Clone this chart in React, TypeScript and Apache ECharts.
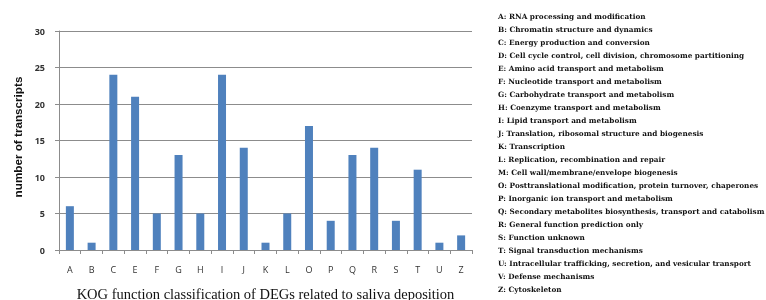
import React, { useEffect, useRef } from "react";
import * as echarts from "echarts";

const categories = ["A", "B", "C", "E", "F", "G", "H", "I", "J", "K", "L", "O", "P", "Q", "R", "S", "T", "U", "Z"];
const values = [6, 1, 24, 21, 5, 13, 5, 24, 14, 1, 5, 17, 4, 13, 14, 4, 11, 1, 2];
const yTicks = [0, 5, 10, 15, 20, 25, 30];
const legendLines = [
  "A: RNA processing and modification",
  "B: Chromatin structure and dynamics",
  "C: Energy production and conversion",
  "D: Cell cycle control, cell division, chromosome partitioning",
  "E: Amino acid transport and metabolism",
  "F: Nucleotide transport and metabolism",
  "G: Carbohydrate transport and metabolism",
  "H: Coenzyme transport and metabolism",
  "I: Lipid transport and metabolism",
  "J: Translation, ribosomal structure and biogenesis",
  "K: Transcription",
  "L: Replication, recombination and repair",
  "M: Cell wall/membrane/envelope biogenesis",
  "O: Posttranslational modification, protein turnover, chaperones",
  "P: Inorganic ion transport and metabolism",
  "Q: Secondary metabolites biosynthesis, transport and catabolism",
  "R: General function prediction only",
  "S: Function unknown",
  "T: Signal transduction mechanisms",
  "U: Intracellular trafficking, secretion, and vesicular transport",
  "V: Defense mechanisms",
  "Z: Cytoskeleton",
];
const xTitle = "KOG function classification of DEGs related to saliva deposition";
const yTitle = "number of transcripts";

export default function App() {
  const ref = useRef<HTMLDivElement>(null);
  useEffect(() => {
    if (!ref.current) return;
    const chart = echarts.init(ref.current, null, { renderer: "svg" });
    const legendGraphics = legendLines.map((t, i) => ({
      type: "text",
      x: 498,
      y: 16 + i * 13.0,
      style: {
        text: t,
        font: "bold 7.3px 'DejaVu Serif'",
        fill: "#111",
        verticalAlign: "middle",
      },
    }));
    chart.setOption({
      animation: false,
      grid: {
        left: 59,
        right: 294,
        top: 31,
        bottom: 50,
        containLabel: false,
        outerBoundsMode: "none",
      },
      xAxis: {
        type: "category",
        data: categories,
        name: xTitle,
        nameLocation: "middle",
        nameGap: 36,
        nameTextStyle: {
          fontFamily: "Liberation Serif",
          fontSize: 14.5,
          color: "#111",
        },
        axisLine: { lineStyle: { color: "#8c8c8c" } },
        axisTick: { show: true, length: 4, lineStyle: { color: "#8c8c8c" } },
        axisLabel: {
          margin: 15,
          fontFamily: "Open Sans",
          fontSize: 9,
          color: "#333",
        },
      },
      yAxis: {
        type: "value",
        min: 0,
        max: 30,
        interval: 5,
        name: yTitle,
        nameLocation: "middle",
        nameGap: 35,
        nameRotate: 90,
        nameTextStyle: {
          fontFamily: "Liberation Sans",
          fontWeight: "bold",
          fontSize: 11.7,
          color: "#111",
          padding: [0, 0, 0, 7],
        },
        axisLine: { show: true, lineStyle: { color: "#8c8c8c" } },
        axisTick: { show: true, length: 4, lineStyle: { color: "#8c8c8c" } },
        axisLabel: {
          margin: 14,
          fontFamily: "Open Sans",
          fontWeight: "bold",
          fontSize: 9,
          color: "#333",
          formatter: (v: number) => (yTicks.includes(v) ? String(v) : ""),
        },
        splitLine: { lineStyle: { color: "#8c8c8c", width: 1 } },
      },
      series: [
        {
          type: "bar",
          data: values,
          barWidth: 8,
          itemStyle: { color: "#4F81BD" },
        },
      ],
      graphic: legendGraphics,
    });
    return () => chart.dispose();
  }, []);
  return (
    <div
      ref={ref}
      style={{ position: "fixed", left: 0, top: 0, width: 766, height: 300 }}
    />
  );
}
